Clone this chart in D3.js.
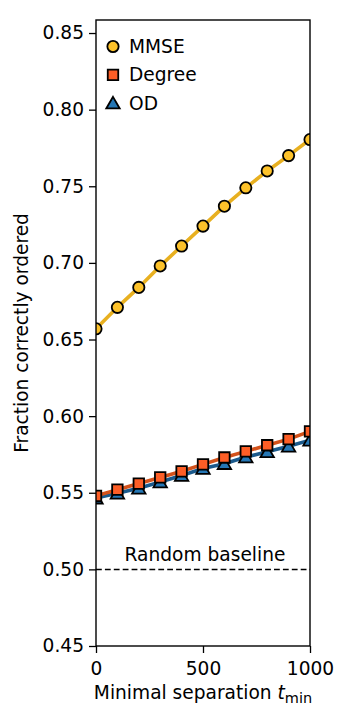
<!DOCTYPE html>
<html>
<head>
<meta charset="utf-8">
<script src="https://cdn.jsdelivr.net/npm/d3@7"></script>
<style>
  html, body { margin: 0; padding: 0; background: #fff; }
  text { font-family: "DejaVu Sans", sans-serif; fill: #000; }
</style>
</head>
<body>
<svg id="chart" width="348" height="720"></svg>
<script>
const tmin = [0, 100, 200, 300, 400, 500, 600, 700, 800, 900, 1000];
const mmse = [0.657, 0.671, 0.684, 0.698, 0.711, 0.724, 0.737, 0.749, 0.760, 0.770, 0.7805];
const degree = [0.548, 0.552, 0.556, 0.560, 0.564, 0.5685, 0.573, 0.577, 0.581, 0.585, 0.590];
const od = [0.5465, 0.5497, 0.553, 0.557, 0.5613, 0.5658, 0.569, 0.5733, 0.5767, 0.5804, 0.5843];
const baseline = 0.5;
const yTicks = [0.45, 0.50, 0.55, 0.60, 0.65, 0.70, 0.75, 0.80, 0.85];
const xTicks = [0, 500, 1000];
const seriesNames = ["MMSE", "Degree", "OD"];

(function () {
const svg = d3.select("#chart");
const pLeft = 96, pRight = 310, pTop = 20, pBottom = 646;
const x = d3.scaleLinear().domain([0, 1000]).range([pLeft, pRight]);
const y = d3.scaleLinear().domain([0.45, 0.8585]).range([pBottom, pTop]);

const series = [
  {name: seriesNames[0], values: mmse, line: "#e8b020", fill: "#fdc22a", shape: d3.symbolCircle},
  {name: seriesNames[1], values: degree, line: "#d4521b", fill: "#fd5e26", shape: d3.symbolSquare},
  {name: seriesNames[2], values: od, line: "#1b5a8c", fill: "#2577b5", shape: d3.symbolTriangle}
];

// baseline
svg.append("line")
  .attr("x1", x(0)).attr("x2", x(1000))
  .attr("y1", y(baseline)).attr("y2", y(baseline))
  .attr("stroke", "#000").attr("stroke-width", 1.5)
  .attr("stroke-dasharray", "5.8,3.1");
svg.append("text")
  .attr("x", (pLeft + pRight) / 2 + 2).attr("y", y(baseline) - 8)
  .attr("text-anchor", "middle").attr("font-size", 18.6)
  .text("Random baseline");

svg.append("clipPath").attr("id", "clip").append("rect")
  .attr("x", pLeft).attr("y", pTop).attr("width", pRight - pLeft).attr("height", pBottom - pTop);

const plot = svg.append("g").attr("clip-path", "url(#clip)");
const lineGen = d3.line().x((d, i) => x(tmin[i])).y(d => y(d));

series.slice().reverse().forEach(s => {
  plot.append("path").datum(s.values)
    .attr("d", lineGen).attr("fill", "none")
    .attr("stroke", s.line).attr("stroke-width", 3.6);
});
const symSize = {"MMSE": 100, "Degree": 110, "OD": 78};
series.slice().reverse().forEach(s => {
  plot.selectAll(null).data(s.values).enter().append("path")
    .attr("transform", (d, i) => {
      const dy = s.shape === d3.symbolTriangle ? 1.5 : 0;
      return `translate(${x(tmin[i])},${y(d) + dy})`;
    })
    .attr("d", d3.symbol().type(s.shape).size(symSize[s.name]))
    .attr("fill", s.fill).attr("stroke", "#000").attr("stroke-width", 1.8);
});

// axes
const yAxis = d3.axisLeft(y).tickValues(yTicks).tickFormat(d3.format(".2f")).tickSize(7).tickPadding(5);
const xAxis = d3.axisBottom(x).tickValues(xTicks).tickFormat(d3.format("d")).tickSize(7).tickPadding(4);
const gy = svg.append("g").attr("transform", `translate(${pLeft},0)`).call(yAxis);
const gx = svg.append("g").attr("transform", `translate(0,${pBottom})`).call(xAxis);
[gx, gy].forEach(g => {
  g.select(".domain").remove();
  g.selectAll(".tick line").attr("stroke", "#000").attr("stroke-width", 1.3);
  g.selectAll(".tick text").attr("font-size", 18.6).attr("font-family", "DejaVu Sans").attr("fill", "#000");
});
gx.selectAll(".tick text").attr("dy", "0.95em");

svg.append("rect").attr("x", pLeft).attr("y", pTop).attr("width", pRight - pLeft).attr("height", pBottom - pTop)
  .attr("fill", "none").attr("stroke", "#000").attr("stroke-width", 1.4);

// axis labels
const xl = svg.append("text").attr("x", (pLeft + pRight) / 2).attr("y", 699)
  .attr("text-anchor", "middle").attr("font-size", 18.6);
xl.append("tspan").text("Minimal separation ");
xl.append("tspan").attr("font-style", "italic").text("t");
xl.append("tspan").attr("font-size", 14.5).attr("dy", 4).text("min");

svg.append("text")
  .attr("transform", `translate(28,${(pTop + pBottom) / 2}) rotate(-90)`)
  .attr("text-anchor", "middle").attr("font-size", 18.6)
  .text("Fraction correctly ordered");

// legend
const leg = svg.append("g");
series.forEach((s, i) => {
  const ly = 46.5 + i * 28.3;
  leg.append("path")
    .attr("transform", `translate(113,${ly + (s.shape === d3.symbolTriangle ? 1.5 : 0)})`)
    .attr("d", d3.symbol().type(s.shape).size(symSize[s.name]))
    .attr("fill", s.fill).attr("stroke", "#000").attr("stroke-width", 1.8);
  leg.append("text").attr("x", 129).attr("y", ly).attr("dy", "0.36em")
    .attr("font-size", 18.6).text(s.name);
});
})();
</script>
</body>
</html>
